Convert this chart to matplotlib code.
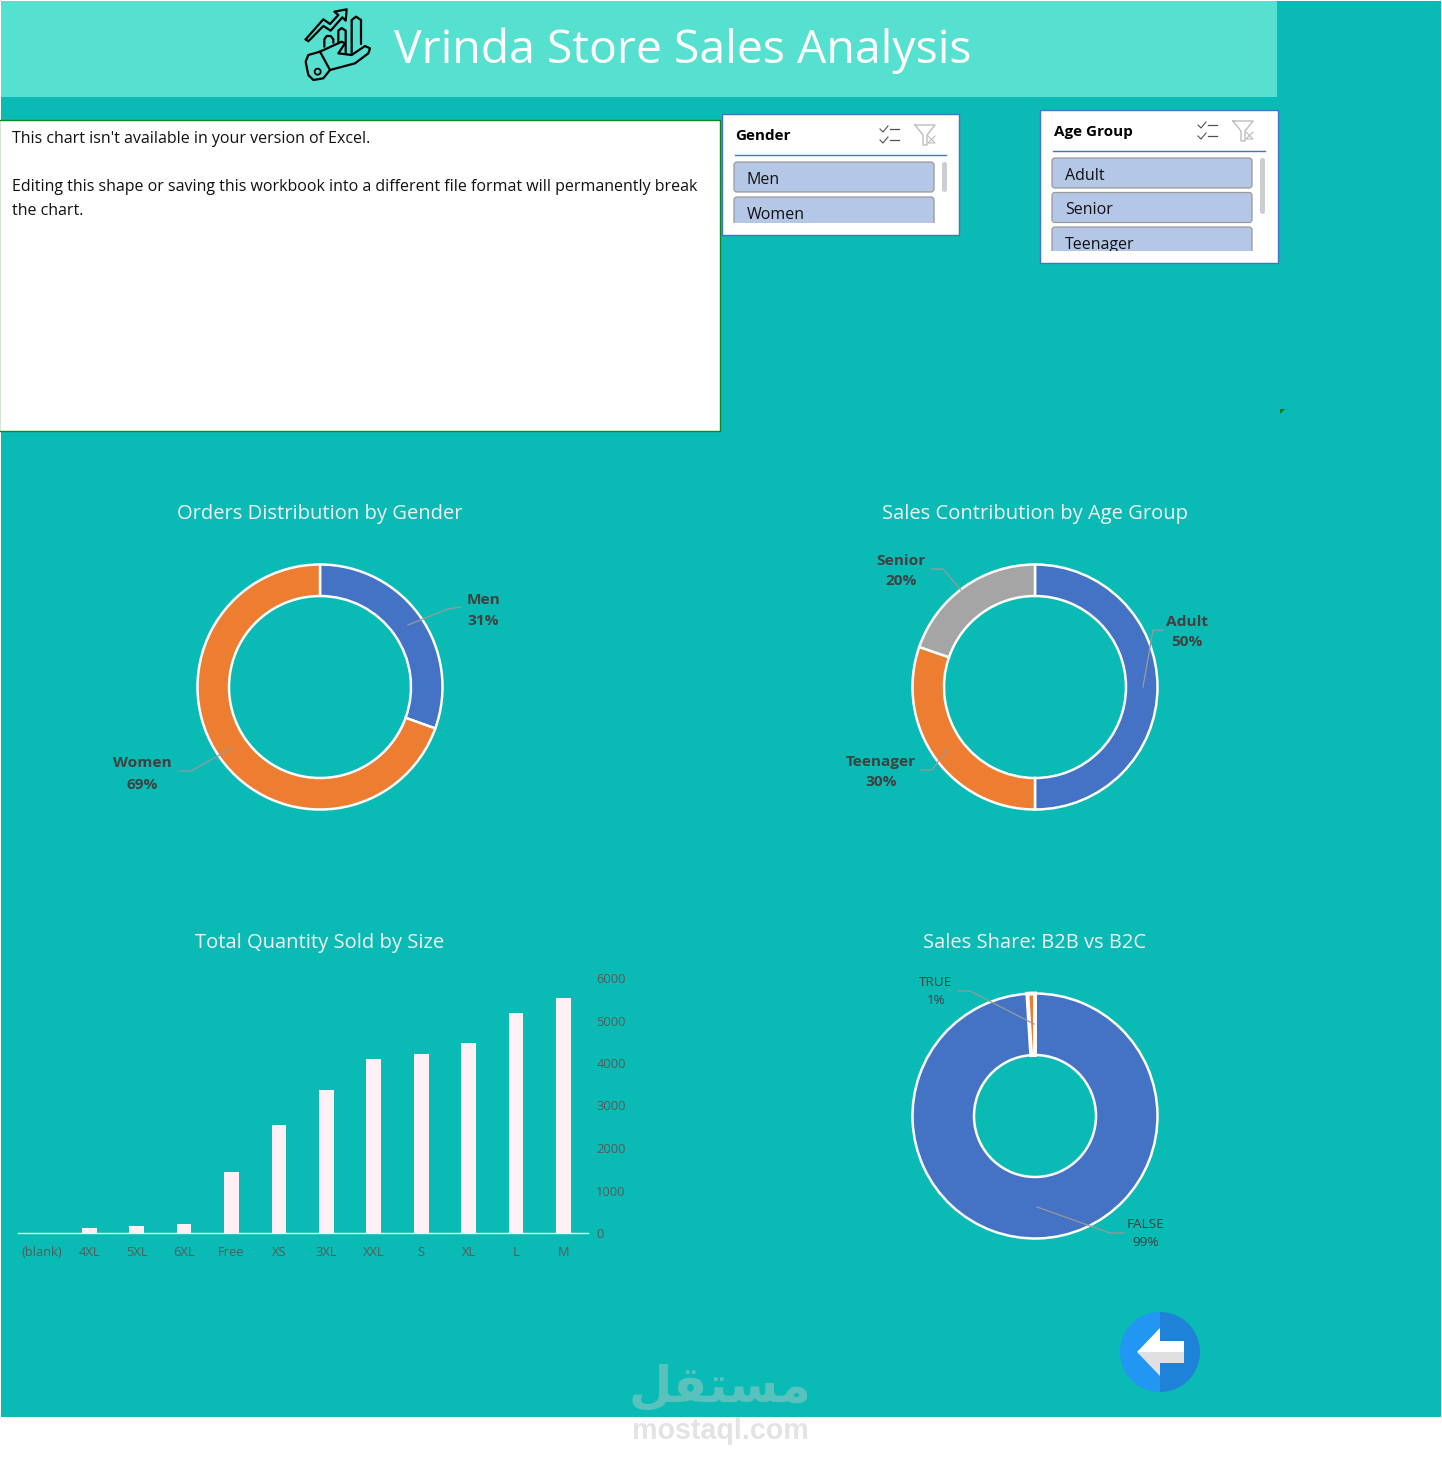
import matplotlib
matplotlib.use('Agg')
import matplotlib.pyplot as plt
from matplotlib.patches import Rectangle, FancyBboxPatch, Circle, Wedge, Polygon

W, H = 1442, 1475
TEAL = '#0ABAB5'
HEADER = '#56E0D0'
BLUE = '#4472C4'
ORANGE = '#ED7D31'
GRAY = '#A5A5A5'
DARK = '#404040'
SLICER = '#B4C7E7'

plt.rcParams['font.family'] = ['Open Sans', 'DejaVu Sans']

# data
gender_labels = ['Men', 'Women']
gender_values = [30.5, 69.5]
age_labels = ['Adult', 'Teenager', 'Senior']
age_values = [50, 30.3, 19.7]
b2b_labels = ['FALSE', 'TRUE']
b2b_values = [99, 1]
sizes = ['(blank)', '4XL', '5XL', '6XL', 'Free', 'XS', '3XL', 'XXL', 'S', 'XL', 'L', 'M']
quantity = [0, 125, 172, 219, 1437, 2539, 3359, 4086, 4203, 4460, 5187, 5539]
qty_ticks = [0, 1000, 2000, 3000, 4000, 5000, 6000]
gender_items = ['Men', 'Women']
age_items = ['Adult', 'Senior', 'Teenager']
notice = ["This chart isn't available in your version of Excel.",
          'Editing this shape or saving this workbook into a different file format will permanently break',
          'the chart.']


def px_axes(x0, y0, x1, y1, **kw):
    return fig.add_axes([x0 / W, 1 - y1 / H, (x1 - x0) / W, (y1 - y0) / H], **kw)


def donut(cx, cy, r, hole, values, colors):
    ax = px_axes(cx - r, cy - r, cx + r, cy + r, zorder=2)
    wedges, _ = ax.pie(values, colors=colors, startangle=90, counterclock=False, radius=1,
                       wedgeprops=dict(width=1 - hole / r, edgecolor='white', linewidth=1.8, clip_on=False))
    ax.set_xlim(-1, 1)
    ax.set_ylim(-1, 1)
    return wedges


def slicer(x0, y0, x1, y1, title, items, scroll_end, step, title_dx):
    bg.add_patch(Rectangle((x0, y0), x1 - x0, y1 - y0, fc='white', ec=BLUE, lw=1))
    bg.text(x0 + title_dx, y0 + 22, title, fontsize=11, fontweight='bold', color='black', va='center')
    bg.plot([x0 + 13, x1 - 13], [y0 + 40.5, y0 + 40.5], color=BLUE, lw=1)
    # select-all icon
    ix = x0 + 158
    for dy in (15, 26):
        bg.plot([ix, ix + 3, ix + 8], [y0 + dy, y0 + dy + 3, y0 + dy - 3], color='#505050', lw=0.8)
        bg.plot([ix + 10, ix + 19], [y0 + dy, y0 + dy], color='#505050', lw=0.9)
    # clear filter icon
    fx = x0 + 193
    bg.plot([fx, fx + 20, fx + 12, fx + 12, fx + 8, fx + 8, fx],
            [y0 + 11, y0 + 11, y0 + 21, y0 + 31, y0 + 31, y0 + 21, y0 + 11], color='#BDBDBD', lw=1)
    bg.plot([fx + 13, fx + 20, fx + 13, fx + 20], [y0 + 22, y0 + 29, y0 + 29, y0 + 22], color='#BDBDBD', lw=0.8)
    clip = Rectangle((x0 + 1, y0 + 1), x1 - x0 - 2, y1 - y0 - 13, transform=bg.transData)
    for i, name in enumerate(items):
        top = y0 + 48 + i * step
        box = FancyBboxPatch((x0 + 12, top), 200, 30, boxstyle='round,pad=0,rounding_size=3',
                             fc=SLICER, ec='#9A9A9A', lw=0.9)
        bg.add_patch(box)
        box.set_clip_path(clip)
        t = bg.text(x0 + 25, top + 18, name, fontsize=11.5, color='#111111', va='center')
        t.set_clip_path(clip)
        t.set_clip_on(True)
    bg.add_patch(FancyBboxPatch((x0 + 220, y0 + 48), 5, scroll_end, boxstyle='round,pad=0,rounding_size=2.5',
                                fc='#CDCDCD', ec='none'))


fig = plt.figure(figsize=(W / 100, H / 100), dpi=100, facecolor='white')
bg = fig.add_axes([0, 0, 1, 1], zorder=0)
bg.set_xlim(0, W)
bg.set_ylim(H, 0)
bg.axis('off')
fg = fig.add_axes([0, 0, 1, 1], zorder=5)
fg.set_xlim(0, W)
fg.set_ylim(H, 0)
fg.axis('off')
fg.patch.set_alpha(0)

# page and header
bg.add_patch(Rectangle((1, 1), 1440, 1416, fc=TEAL, ec='none'))
bg.add_patch(Rectangle((1, 1), 1276, 96, fc=HEADER, ec='none'))
bg.text(394, 51, 'Vrinda Store Sales Analysis', fontsize=33.4, color='white', va='center', ha='left')

# header icon
icon_x, icon_y = 280, 0
icon_lines = [
    [(77, 118), (130, 58), (150, 72), (175, 45), (163, 35), (200, 28), (197, 62), (187, 52), (152, 92), (130, 78), (85, 124), (77, 118)],
    [(133, 140), (133, 118), (140, 108), (152, 108), (160, 118), (160, 128)],
    [(175, 130), (175, 92), (185, 84), (197, 92), (197, 160)],
    [(215, 160), (215, 60), (228, 50), (243, 60), (243, 132)],
    [(120, 155), (185, 125), (195, 130), (175, 160), (215, 165), (255, 138), (270, 145), (265, 160), (225, 190), (150, 210), (130, 235), (100, 240), (85, 225), (77, 185), (85, 165), (120, 155)],
    [(120, 155), (150, 210)],
]
for pts in icon_lines:
    bg.plot([icon_x + p[0] / 3 for p in pts], [icon_y + p[1] / 3 for p in pts], color='black', lw=1.6,
            solid_joinstyle='round', solid_capstyle='round')
bg.add_patch(Circle((icon_x + 113 / 3, icon_y + 215 / 3), 3, fc='none', ec='black', lw=1.3))

# notice box
bg.add_patch(Rectangle((-1, 120), 721, 311, fc='white', ec='#0A8A20', lw=1))
for y, line in zip([139, 187, 211], notice):
    bg.text(12, y, line, fontsize=11.55, color='#111111', va='center')
bg.add_patch(Polygon([(1280, 409), (1285, 409), (1280, 414)], fc='#0B7A20', ec='none'))

# slicers
slicer(722, 114, 959, 235, 'Gender', gender_items, 30, 35, 13)
slicer(1040, 110, 1278, 263, 'Age Group', age_items, 56, 34.5, 14)

# chart titles
for x, y, s in [(320, 514, 'Orders Distribution by Gender'), (1035, 514, 'Sales Contribution by Age Group'),
                (320, 943, 'Total Quantity Sold by Size'), (1035, 943, 'Sales Share: B2B vs B2C')]:
    bg.text(x, y, s, fontsize=14.5, color='#F2F2F2', ha='center', va='center')

# doughnuts
donut(320, 687, 122.5, 91, gender_values, [BLUE, ORANGE])
donut(1035, 687, 122.5, 91, age_values, [BLUE, ORANGE, GRAY])
b2b_wedges = donut(1035, 1116, 122.5, 61, b2b_values, [BLUE, ORANGE])
b2b_wedges[1].set_linewidth(2.8)
b2b_wedges[1].set_zorder(3)

leader = dict(color='#9A9A9A', lw=0.9)
fg.plot([408, 448, 461], [625, 609, 607], **leader)
fg.plot([180, 191, 232], [771, 771, 748], **leader)
fg.plot([1143, 1153, 1163], [687, 630, 630], **leader)
fg.plot([921, 932, 948], [770, 770, 748], **leader)
fg.plot([931, 943, 961], [569, 569, 590], **leader)
fg.plot([958, 970, 1034], [991, 991, 1024], **leader)
fg.plot([1037, 1110, 1124], [1207, 1233, 1233], **leader)

bold_labels = [(483, 600, gender_labels[0]), (483, 621, '31%'), (142, 763, gender_labels[1]), (142, 785, '69%'),
               (1187, 622, age_labels[0]), (1187, 642, '50%'), (881, 762, age_labels[1]), (881, 782, '30%'),
               (901, 561, age_labels[2]), (901, 581, '20%')]
for x, y, s in bold_labels:
    fg.text(x, y, s, fontsize=11.1, fontweight='bold', color=DARK, ha='center', va='center')
for x, y, s in [(1146, 1225, b2b_labels[0]), (1146, 1243, '99%'), (936, 983, b2b_labels[1]), (936, 1001, '1%')]:
    fg.text(x, y, s, fontsize=9.7, color=DARK, ha='center', va='center')

# bar chart
ax = px_axes(18, 978, 588, 1233, zorder=2)
ax.patch.set_alpha(0)
ax.bar(sizes, quantity, width=0.31, color='#FFF0F5')
ax.set_xlim(-0.5, len(sizes) - 0.485)
ax.set_ylim(0, 6000)
ax.set_yticks(qty_ticks)
ax.yaxis.tick_right()
for s in ['top', 'left', 'right']:
    ax.spines[s].set_visible(False)
ax.spines['bottom'].set_color('#DDF5F3')
ax.spines['bottom'].set_linewidth(1)
ax.tick_params(axis='both', length=0, labelsize=9.3, labelcolor='#595959')
ax.tick_params(axis='y', pad=6)
ax.tick_params(axis='x', pad=9.5)

# back button
bg.add_patch(Wedge((1160, 1352), 40, 90, 270, fc='#2196F3', ec='none'))
bg.add_patch(Wedge((1160, 1352), 40, 270, 90, fc='#1E82D8', ec='none'))
bg.add_patch(Polygon([(1137, 1352), (1160, 1328), (1160, 1341), (1184, 1341), (1184, 1352)], fc='white', ec='none'))
bg.add_patch(Polygon([(1137, 1352), (1160, 1376), (1160, 1363), (1184, 1363), (1184, 1352)], fc='#E0E0E0', ec='none'))

# watermark
fg.text(720, 1388, '\uFEDE\uFED8\uFE98\uFEB4\uFEE3', fontsize=36, fontweight='bold', color='#5AC2BC',
        ha='center', va='center', family='DejaVu Sans')
fg.text(720, 1431, 'mostaql.com', fontsize=20.6, fontweight='bold', color='#E3E3E3', ha='center', va='center',
        family='Liberation Sans')

fig.savefig('out.png', dpi=100, facecolor='white')
